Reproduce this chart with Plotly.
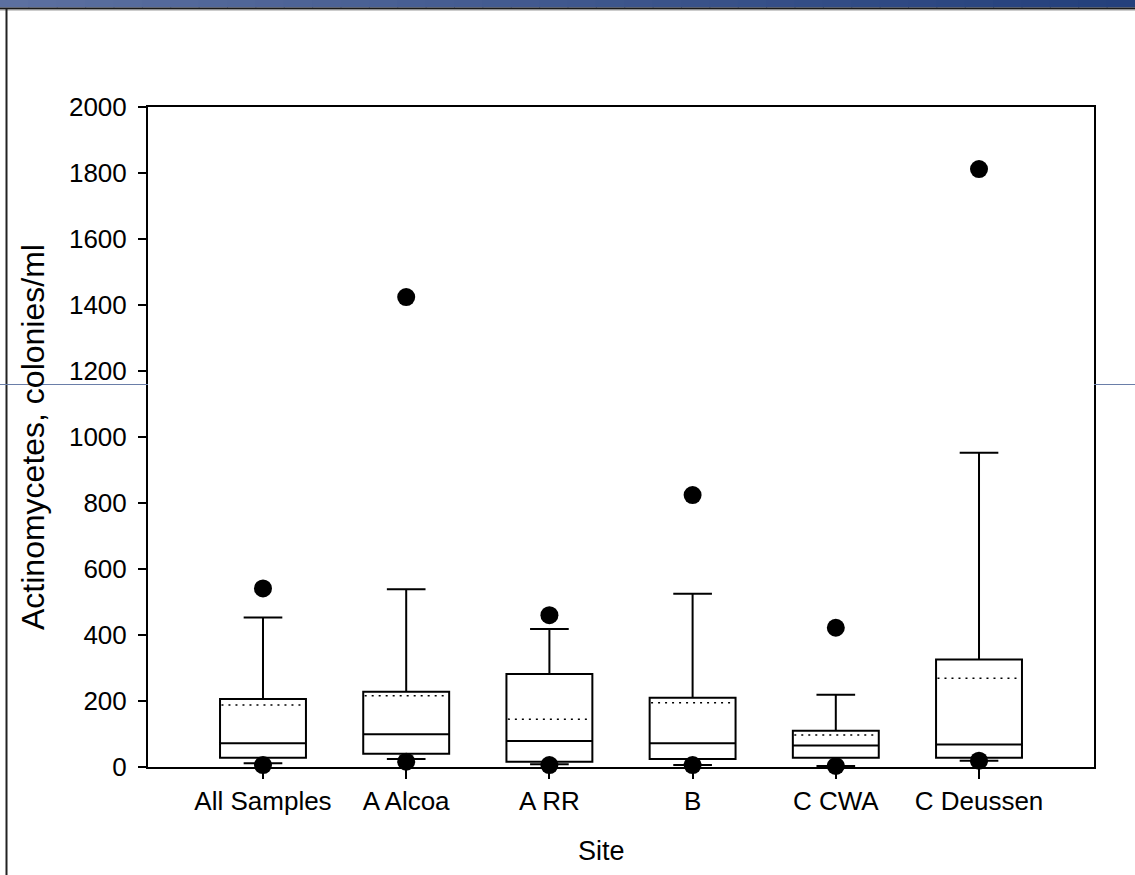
import plotly.graph_objects as go

categories = ["All Samples", "A Alcoa", "A RR", "B", "C CWA", "C Deussen"]
p05 = [6, 16, 6, 6, 3, 19]
p10 = [11, 24, 8, 6, 3, 19]
q1 = [28, 40, 16, 24, 28, 28]
median = [72, 99, 79, 72, 65, 68]
mean = [188, 216, 145, 195, 97, 269]
q3 = [206, 228, 282, 210, 110, 326]
p90 = [453, 539, 418, 525, 219, 952]
p95 = [541, 1424, 460, 824, 422, 1812]
y_ticks = list(range(0, 2001, 200))

xpos = list(range(len(categories)))
W, H = 1135, 875
L, R, T, B = 148, 1094, 107, 767
FONT = "Liberation Sans, Arial, sans-serif"


def px(x):
    return (x - L) / (R - L)


def py(y):
    return (B - y) / (B - T)


fig = go.Figure()
fig.add_trace(go.Box(
    x=xpos, q1=q1, median=median, q3=q3, lowerfence=p10, upperfence=p90,
    width=0.6, whiskerwidth=0.45, boxpoints=False,
    fillcolor="white", line=dict(color="black", width=2),
    hoverinfo="skip", showlegend=False,
))

mx, my = [], []
for i, m in zip(xpos, mean):
    mx += [i - 0.29, i + 0.29, None]
    my += [m, m, None]
fig.add_trace(go.Scatter(x=mx, y=my, mode="lines",
                         line=dict(color="black", width=1.5, dash="2px,5px"),
                         showlegend=False, hoverinfo="skip"))

fig.add_trace(go.Scatter(x=xpos + xpos, y=p05 + p95, mode="markers",
                         marker=dict(color="black", size=18),
                         cliponaxis=False, showlegend=False))

shapes = []
# header gradient bar
n = 40
c0 = (92, 112, 160)
c1 = (36, 64, 124)
for k in range(n):
    t = k / (n - 1)
    col = "rgb(%d,%d,%d)" % tuple(int(a + (b - a) * t) for a, b in zip(c0, c1))
    shapes.append(dict(type="rect", xref="paper", yref="paper",
                       x0=px(W * k / n), x1=px(W * (k + 1) / n + 1),
                       y0=py(7.5), y1=py(0), fillcolor=col, line=dict(width=0), layer="above"))
shapes.append(dict(type="line", xref="paper", yref="paper", x0=px(0), x1=px(W),
                   y0=py(8.5), y1=py(8.5), line=dict(color="#1a1a1a", width=2)))
shapes.append(dict(type="line", xref="paper", yref="paper", x0=px(0), x1=px(W),
                   y0=py(10), y1=py(10), line=dict(color="#999999", width=1)))
# left frame line
shapes.append(dict(type="line", xref="paper", yref="paper", x0=px(6.5), x1=px(6.5),
                   y0=py(9), y1=py(H), line=dict(color="#222222", width=2)))
# thin blue-grey line
shapes.append(dict(type="line", xref="paper", yref="paper", x0=px(0), x1=px(L),
                   y0=py(384.5), y1=py(384.5), line=dict(color="#6a7ea8", width=1)))
shapes.append(dict(type="line", xref="paper", yref="paper", x0=px(R), x1=px(W),
                   y0=py(384.5), y1=py(384.5), line=dict(color="#6a7ea8", width=1)))

fig.update_layout(
    width=W, height=H,
    margin=dict(l=L, r=W - R, t=T, b=H - B, pad=0),
    paper_bgcolor="white", plot_bgcolor="white",
    font=dict(family=FONT, size=26, color="black"),
    shapes=shapes,
    annotations=[
        dict(text="Actinomycetes, colonies/ml", xref="paper", yref="paper",
             x=px(33), y=0.5, xanchor="center", yanchor="middle",
             textangle=-90, showarrow=False, font=dict(size=32, family=FONT)),
        dict(text="Site", xref="paper", yref="paper",
             x=px(601), y=py(851), xanchor="center", yanchor="middle",
             showarrow=False, font=dict(size=27, family=FONT)),
    ],
)
fig.update_xaxes(
    range=[-0.803, 5.803], tickvals=xpos, ticktext=categories,
    ticks="outside", ticklen=10, tickwidth=2, tickcolor="black",
    showline=True, linecolor="black", linewidth=2, mirror=True,
    showgrid=False, zeroline=False, tickfont=dict(size=26),
)
fig.update_yaxes(
    range=[0, 2000], tickvals=y_ticks,
    ticks="outside", ticklen=8, tickwidth=2, tickcolor="black",
    showline=True, linecolor="black", linewidth=2, mirror=True,
    showgrid=False, zeroline=False, tickfont=dict(size=26),
    ticklabelstandoff=6,
)
fig.write_html("out.html")
